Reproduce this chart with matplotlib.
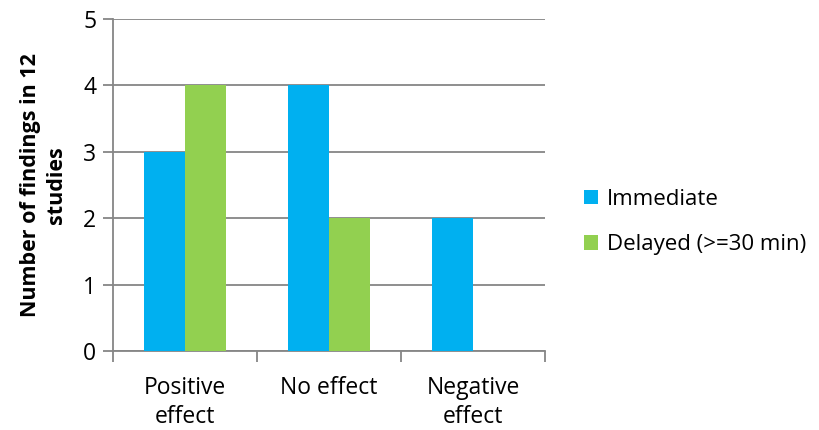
import numpy as np
import matplotlib
matplotlib.use('Agg')
import matplotlib.pyplot as plt
from matplotlib.ticker import FixedLocator

# -------------------------------
# DATA
# -------------------------------
categories = ['Positive\neffect', 'No effect', 'Negative\neffect']
immediate = [3, 4, 2]
delayed = [4, 2, 0]
series_names = ['Immediate', 'Delayed (>=30 min)']

BLUE = '#00B0F0'
GREEN = '#92D050'
GRID = '#868686'
FS = 16.5

plt.rcParams['font.family'] = ['Open Sans', 'DejaVu Sans']

fig = plt.figure(figsize=(8.2, 4.3), dpi=100)
ax = fig.add_axes([0.1378, 0.1837, 0.5268, 0.7721])

x = np.arange(len(categories))
w = 0.285
ax.bar(x - w / 2, immediate, width=w, color=BLUE, label=series_names[0], zorder=3)
ax.bar(x + w / 2, delayed, width=w, color=GREEN, label=series_names[1], zorder=3)

ax.set_xlim(-0.5, len(categories) - 0.5)
ax.set_ylim(0, 5)
ax.set_yticks(range(0, 6))
ax.tick_params(axis='y', labelsize=FS, length=7, color=GRID, width=1.3, pad=5)

ax.set_xticks(x)
ax.set_xticklabels(categories, fontsize=FS, linespacing=1.25)
ax.tick_params(axis='x', which='major', length=0, pad=18)
ax.xaxis.set_minor_locator(FixedLocator(np.arange(-0.5, len(categories), 1.0)))
ax.tick_params(axis='x', which='minor', length=8, color=GRID, width=1.3)

ax.grid(axis='y', color=GRID, linewidth=1.3, zorder=0)
for side in ['top', 'right']:
    ax.spines[side].set_visible(False)
for side in ['left', 'bottom']:
    ax.spines[side].set_color(GRID)
    ax.spines[side].set_linewidth(1.3)

ax.set_ylabel('Number of findings in 12\nstudies', fontsize=15.5, fontweight='bold',
              labelpad=12, linespacing=1.3)

ax.legend(loc='center left', bbox_to_anchor=(1.045, 0.388), frameon=False,
          fontsize=16, handlelength=0.62, handleheight=0.62, handletextpad=0.4,
          labelspacing=1.1)

fig.savefig('out.png', dpi=100)
